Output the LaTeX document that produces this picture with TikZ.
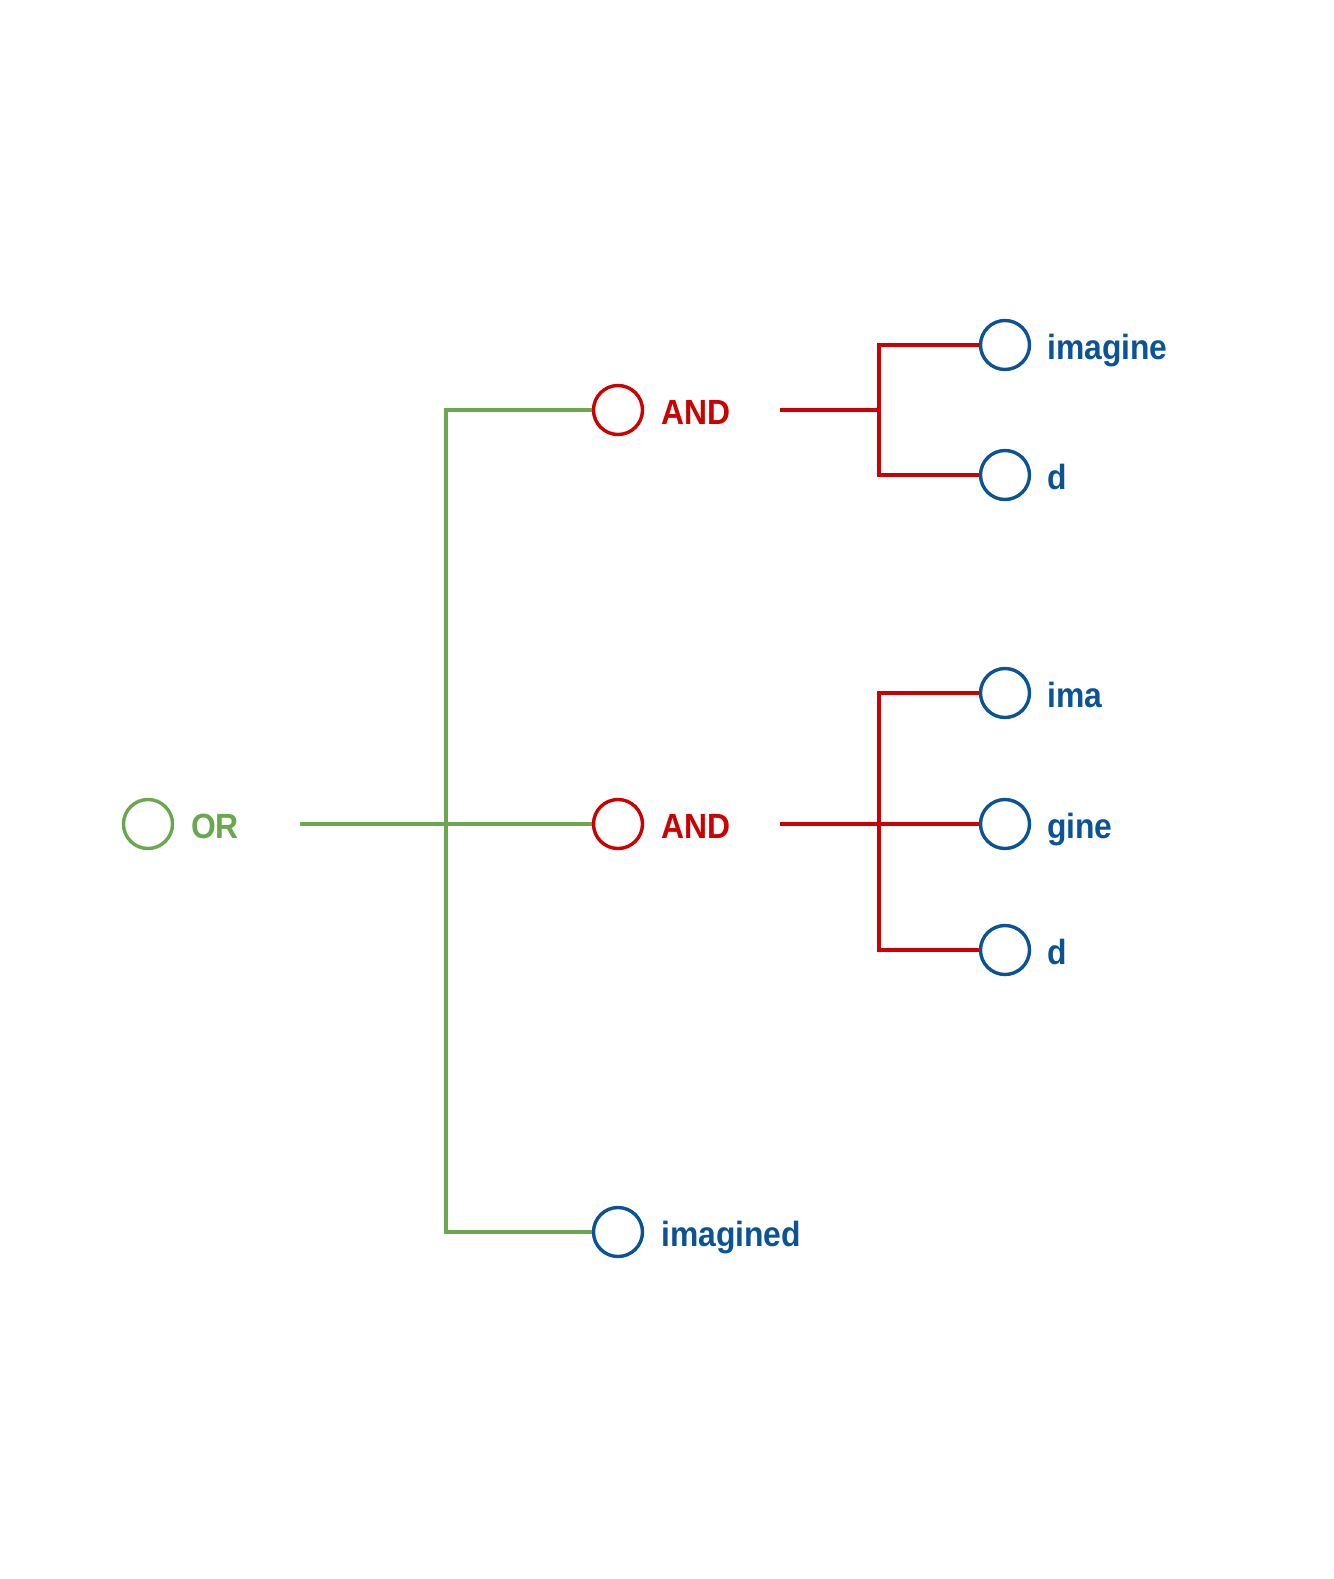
\documentclass[tikz,border=0pt]{standalone}
\usepackage{fontspec}
\setmainfont{Liberation Sans}[FakeStretch=0.91]
\usetikzlibrary{calc}
\definecolor{orgreen}{HTML}{6AA84F}
\definecolor{andred}{HTML}{CC0000}
\definecolor{leafblue}{HTML}{0B5394}
\begin{document}
\begin{tikzpicture}[x=1pt,y=-1pt,
  circ/.style={circle,draw=#1,line width=3.4pt,minimum size=49pt,inner sep=0pt},
  lab/.style={anchor=base west,text=#1,font=\fontsize{35}{40}\selectfont\bfseries,inner sep=0pt},
  wire/.style={draw=#1,line width=3.2pt}]
\useasboundingbox (0,0) rectangle (1333,1579);
% OR
\node[circ=orgreen] (or) at (148,824) {};
\node[lab=orgreen] (orl) at (191,838) {OR};
\coordinate (orout) at (300,824);
\coordinate (gsplit) at (446,824);
% AND nodes
\node[circ=andred] (and1) at (618,410) {};
\node[lab=andred] (and1l) at (661,424) {AND};
\node[circ=andred] (and2) at (618,824) {};
\node[lab=andred] (and2l) at (661,838) {AND};
\node[circ=leafblue] (imd) at (618,1232) {};
\node[lab=leafblue] (imdl) at (661,1246) {imagined};
\coordinate (a1out) at (780,410);
\coordinate (a2out) at (780,824);
\coordinate (r1) at (879,410);
\coordinate (r2) at (879,824);
% leaves
\node[circ=leafblue] (l1) at (1005,345) {};
\node[lab=leafblue] (l1l) at (1047,359) {imagine};
\node[circ=leafblue] (l2) at (1005,475) {};
\node[lab=leafblue] (l2l) at (1047,489) {d};
\node[circ=leafblue] (l3) at (1005,693) {};
\node[lab=leafblue] (l3l) at (1047,707) {ima};
\node[circ=leafblue] (l4) at (1005,824) {};
\node[lab=leafblue] (l4l) at (1047,838) {gine};
\node[circ=leafblue] (l5) at (1005,950) {};
\node[lab=leafblue] (l5l) at (1047,964) {d};
% green wires
\draw[wire=orgreen] (orout) -- (gsplit);
\draw[wire=orgreen] (and1.west) -| (gsplit);
\draw[wire=orgreen] (imd.west) -| (gsplit);
\draw[wire=orgreen] (gsplit) -- (and2.west);
% red wires
\draw[wire=andred] (a1out) -- (r1);
\draw[wire=andred] (l1.west) -| (r1) |- (l2.west);
\draw[wire=andred] (a2out) -- (l4.west);
\draw[wire=andred] (l3.west) -| (r2) |- (l5.west);
\end{tikzpicture}
\end{document}
